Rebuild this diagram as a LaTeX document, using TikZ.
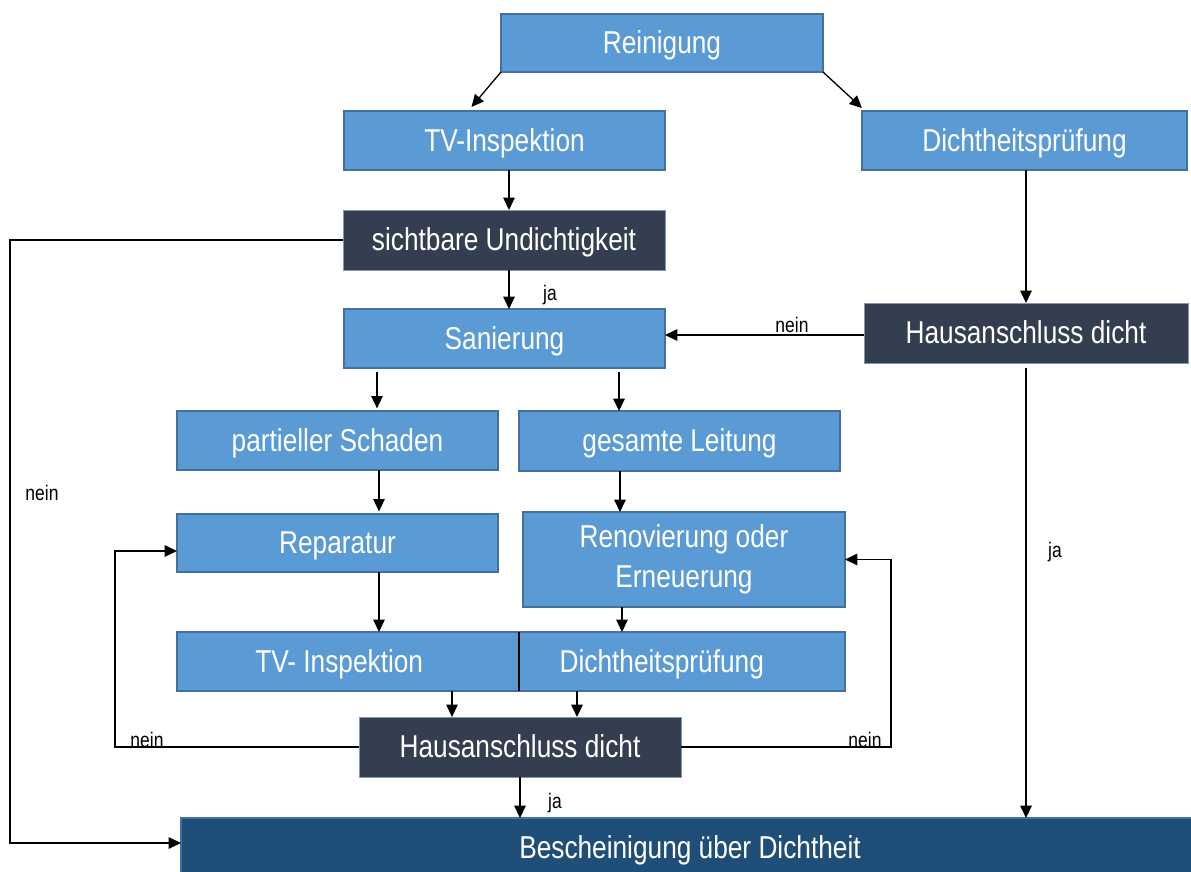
\documentclass[tikz,border=0pt]{standalone}
\usepackage{fontspec}
\setmainfont{Liberation Sans}[FakeStretch=0.83]
\usetikzlibrary{arrows.meta,calc}
\definecolor{lblue}{HTML}{5B9BD5}
\definecolor{lbord}{HTML}{41719C}
\definecolor{dslate}{HTML}{333F50}
\definecolor{dbord}{HTML}{8497B0}
\definecolor{navy}{HTML}{1F4E79}
\newcommand\mybox[7]{\node[#6, minimum width=#4*0.02cm, minimum height=#5*0.02cm] (#1) at (#2,#3) {#7};}
\begin{document}
\begin{tikzpicture}[x=0.02cm,y=-0.02cm,
  base/.style={rectangle, inner sep=0pt, outer sep=0pt, text=white, font=\fontsize{18}{21}\selectfont, align=center, text height=15.8pt, text depth=3.6pt},
  bluebox/.style={base, fill=lblue, draw=lbord, line width=1pt},
  darkbox/.style={base, fill=dslate, draw=dbord, line width=0.5pt},
  finalbox/.style={base, fill=navy, draw=lbord, line width=1pt},
  arr/.style={-{Triangle[length=7pt,width=6.5pt]}, line width=0.75pt, black},
  lbl/.style={font=\fontsize{12}{14}\selectfont, text=black, inner sep=0pt}]
\useasboundingbox (0,0) rectangle (1191,872);
\fill[white] (0,0) rectangle (1191,872);
% boxes
\mybox{rein}{662}{43}{322}{58}{bluebox}{Reinigung}
\mybox{tvi}{504.5}{140.5}{321}{59}{bluebox}{TV-Inspektion}
\mybox{dpt}{1024.5}{140.5}{325}{59}{bluebox}{Dichtheitsprüfung}
\mybox{sicht}{504}{240}{322}{60}{darkbox}{sichtbare Undichtigkeit}
\mybox{san}{504.5}{338.5}{321}{59}{bluebox}{Sanierung}
\mybox{haR}{1026}{333}{324}{60}{darkbox}{Hausanschluss dicht}
\mybox{part}{337.5}{440.5}{321}{59}{bluebox}{partieller Schaden}
\mybox{ges}{679.5}{441}{321}{60}{bluebox}{gesamte Leitung}
\mybox{rep}{337.5}{543}{321}{58}{bluebox}{Reparatur}
\mybox{ren}{684}{559.5}{322}{95}{bluebox, text height=, text depth=}{Renovierung oder\\[2pt]Erneuerung}
\mybox{tvi2}{348}{661.5}{342}{59}{bluebox}{\hspace*{-10pt}TV- Inspektion}
\mybox{dp2}{682}{661.5}{326}{59}{bluebox}{\hspace*{-23pt}Dichtheitsprüfung}
\mybox{ha2}{520}{747}{322}{60}{darkbox}{Hausanschluss dicht}
\mybox{besch}{690}{848}{1018}{60}{finalbox}{Bescheinigung über Dichtheit}
\draw[black, line width=1.2pt] (tvi2.north east) -- (tvi2.south east);
% columns
\coordinate (xA) at (377,0);
\coordinate (xB) at (619,0);
\coordinate (xC) at (379,0);
\coordinate (xD) at (620,0);
\coordinate (xE) at (622,0);
\coordinate (xF) at (452,0);
\coordinate (xG) at (577,0);
\coordinate (xL) at (115,0);
\coordinate (xR) at (891,0);
\coordinate (xN) at (10,0);
\coordinate (yR) at (0,551);
\coordinate (yB) at (0,843);
\coordinate (yH) at (0,335);
\coordinate (xT) at (509,0);
\coordinate (tA) at ([shift={(-33,-4)}]tvi.north);
\coordinate (tB) at ([shift={(0,-3)}]dpt.north west);
% connectors
\draw[arr] (rein.south west) -- (tA);
\draw[arr] (rein.south east) -- (tB);
\draw[arr] (tvi.south -| xT) -- (sicht.north -| xT);
\draw[arr] (sicht.south -| xT) -- (san.north -| xT);
\node[lbl] at (550,295) {ja};
\draw[arr] (dpt.south -| haR.north) -- (haR.north);
\draw[arr] (haR.west |- yH) -- (san.east |- yH);
\node[lbl] at (792,325) {nein};
\draw[arr, shorten <=3pt] (haR.south) -- (haR.south |- besch.north);
\node[lbl] at (1055,552) {ja};
\draw[arr] (sicht.west) -- (sicht.west -| xN) -- (xN |- yB) -- (besch.west |- yB);
\node[lbl] at (42,493) {nein};
\draw[arr, shorten <=2.2pt, shorten >=1.5pt] (san.south -| xA) -- (part.north -| xA);
\draw[arr, shorten <=2.2pt] (san.south -| xB) -- (ges.north -| xB);
\draw[arr, shorten >=1.5pt] (part.south -| xC) -- (rep.north -| xC);
\draw[arr] (ges.south -| xD) -- (ren.north -| xD);
\draw[arr] (rep.south -| xC) -- (tvi2.north -| xC);
\draw[arr] (ren.south -| xE) -- (dp2.north -| xE);
\draw[arr] (tvi2.south -| xF) -- (ha2.north -| xF);
\draw[arr] (dp2.south -| xG) -- (ha2.north -| xG);
\draw[arr] (ha2.west) -- (ha2.west -| xL) -- (xL |- yR) -- (rep.west |- yR);
\node[lbl] at (147,740) {nein};
\draw[arr] (ha2.east) -- (ha2.east -| xR) -- (xR |- ren.east) -- (ren.east);
\node[lbl] at (865,740) {nein};
\draw[arr] (ha2.south) -- (besch.north -| ha2.south);
\node[lbl] at (555,803) {ja};
\end{tikzpicture}
\end{document}
